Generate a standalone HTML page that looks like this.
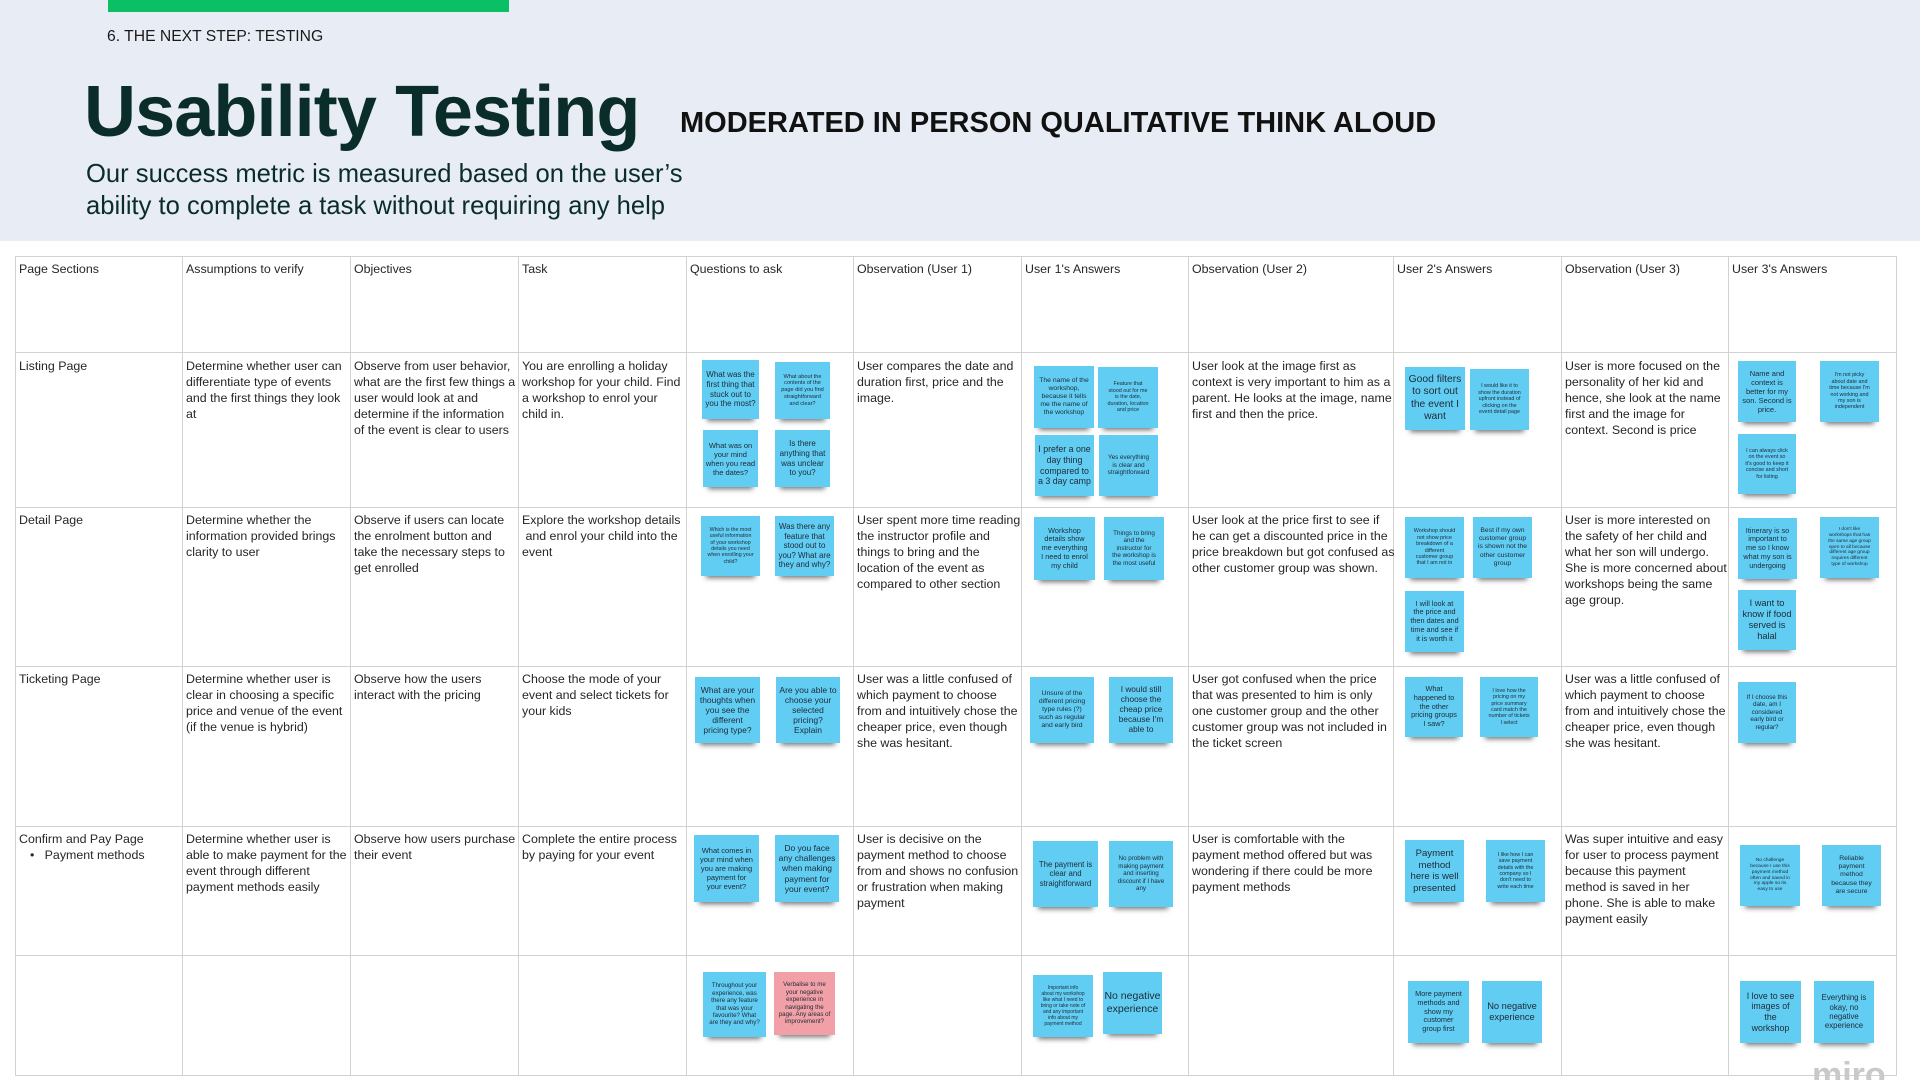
<!DOCTYPE html>
<html><head><meta charset="utf-8"><style>
html{margin:0;padding:0;width:1920px;height:1080px;overflow:hidden}
body{margin:0;padding:0;width:1920px;height:1080px;position:relative;overflow:hidden;background:#fff;font-family:"Liberation Sans",Arial,sans-serif}
.hdr{position:absolute;left:0;top:0;width:1920px;height:241px;background:#e8edf5}
.bar{position:absolute;left:108px;top:0;width:401px;height:12px;background:#0bbf64}
.step{position:absolute;left:107px;top:28px;font-size:15.7px;color:#1a1a1a;white-space:nowrap;line-height:18px}
.title{position:absolute;left:84px;top:76px;font-size:72px;line-height:72px;font-weight:bold;color:#0b2d29;letter-spacing:-0.9px;white-space:nowrap}
.mod{position:absolute;left:680px;top:107px;font-size:29px;line-height:32px;font-weight:bold;color:#111;white-space:nowrap}
.sub{position:absolute;left:86px;top:158px;font-size:25.6px;line-height:32px;color:#0b2d29;white-space:nowrap}
.vl{position:absolute;top:256px;width:1px;height:820px;background:#d2d2d2}
.hl{position:absolute;left:15px;width:1882px;height:1px;background:#d2d2d2}
.c{position:absolute;font-size:12.4px;line-height:16px;color:#262626;white-space:nowrap;margin-top:1px}
.s{position:absolute;background:#62cdf3;display:flex;align-items:center;justify-content:center;text-align:center;box-shadow:0 7px 5px -5px rgba(0,0,0,.55);color:#1d2a35;line-height:1.2;overflow:hidden;white-space:nowrap}
.p{background:#f2a0a8}
.miro{position:absolute;left:1812px;top:1058px;font-size:34px;font-weight:bold;color:#c9c9c9;line-height:34px}
</style></head><body>
<div class="hdr"></div>
<div class="bar"></div>
<div class="step">6. THE NEXT STEP: TESTING</div>
<div class="title">Usability Testing</div>
<div class="mod">MODERATED IN PERSON QUALITATIVE THINK ALOUD</div>
<div class="sub">Our success metric is measured based on the user’s<br>ability to complete a task without requiring any help</div>

<div class="vl" style="left:15px"></div>
<div class="vl" style="left:182px"></div>
<div class="vl" style="left:350px"></div>
<div class="vl" style="left:518px"></div>
<div class="vl" style="left:686px"></div>
<div class="vl" style="left:853px"></div>
<div class="vl" style="left:1021px"></div>
<div class="vl" style="left:1188px"></div>
<div class="vl" style="left:1393px"></div>
<div class="vl" style="left:1561px"></div>
<div class="vl" style="left:1728px"></div>
<div class="vl" style="left:1896px"></div>
<div class="hl" style="top:256px"></div>
<div class="hl" style="top:352px"></div>
<div class="hl" style="top:507px"></div>
<div class="hl" style="top:666px"></div>
<div class="hl" style="top:826px"></div>
<div class="hl" style="top:955px"></div>
<div class="hl" style="top:1075px"></div>

<div class="c" style="left:19px;top:260px">Page Sections</div>
<div class="c" style="left:186px;top:260px">Assumptions to verify</div>
<div class="c" style="left:354px;top:260px">Objectives</div>
<div class="c" style="left:522px;top:260px">Task</div>
<div class="c" style="left:690px;top:260px">Questions to ask</div>
<div class="c" style="left:857px;top:260px">Observation (User 1)</div>
<div class="c" style="left:1025px;top:260px">User 1's Answers</div>
<div class="c" style="left:1192px;top:260px">Observation (User 2)</div>
<div class="c" style="left:1397px;top:260px">User 2's Answers</div>
<div class="c" style="left:1565px;top:260px">Observation (User 3)</div>
<div class="c" style="left:1732px;top:260px">User 3's Answers</div>

<div class="c" style="left:19px;top:357px">Listing Page</div>
<div class="c" style="left:186px;top:357px">Determine whether user can<br>differentiate type of events<br>and the first things they look<br>at</div>
<div class="c" style="left:354px;top:357px">Observe from user behavior,<br>what are the first few things a<br>user would look at and<br>determine if the information<br>of the event is clear to users</div>
<div class="c" style="left:522px;top:357px">You are enrolling a holiday<br>workshop for your child. Find<br>a workshop to enrol your<br>child in.</div>
<div class="c" style="left:857px;top:357px">User compares the date and<br>duration first, price and the<br>image.</div>
<div class="c" style="left:1192px;top:357px">User look at the image first as<br>context is very important to him as a<br>parent. He looks at the image, name<br>first and then the price.</div>
<div class="c" style="left:1565px;top:357px">User is more focused on the<br>personality of her kid and<br>hence, she look at the name<br>first and the image for<br>context. Second is price</div>

<div class="c" style="left:19px;top:511px">Detail Page</div>
<div class="c" style="left:186px;top:511px">Determine whether the<br>information provided brings<br>clarity to user</div>
<div class="c" style="left:354px;top:511px">Observe if users can locate<br>the enrolment button and<br>take the necessary steps to<br>get enrolled</div>
<div class="c" style="left:522px;top:511px">Explore the workshop details<br>&nbsp;and enrol your child into the<br>event</div>
<div class="c" style="left:857px;top:511px">User spent more time reading<br>the instructor profile and<br>things to bring and the<br>location of the event as<br>compared to other section</div>
<div class="c" style="left:1192px;top:511px">User look at the price first to see if<br>he can get a discounted price in the<br>price breakdown but got confused as<br>other customer group was shown.</div>
<div class="c" style="left:1565px;top:511px">User is more interested on<br>the safety of her child and<br>what her son will undergo.<br>She is more concerned about<br>workshops being the same<br>age group.</div>

<div class="c" style="left:19px;top:670px">Ticketing Page</div>
<div class="c" style="left:186px;top:670px">Determine whether user is<br>clear in choosing a specific<br>price and venue of the event<br>(if the venue is hybrid)</div>
<div class="c" style="left:354px;top:670px">Observe how the users<br>interact with the pricing</div>
<div class="c" style="left:522px;top:670px">Choose the mode of your<br>event and select tickets for<br>your kids</div>
<div class="c" style="left:857px;top:670px">User was a little confused of<br>which payment to choose<br>from and intuitively chose the<br>cheaper price, even though<br>she was hesitant.</div>
<div class="c" style="left:1192px;top:670px">User got confused when the price<br>that was presented to him is only<br>one customer group and the other<br>customer group was not included in<br>the ticket screen</div>
<div class="c" style="left:1565px;top:670px">User was a little confused of<br>which payment to choose<br>from and intuitively chose the<br>cheaper price, even though<br>she was hesitant.</div>

<div class="c" style="left:19px;top:830px">Confirm and Pay Page</div>
<div class="c" style="left:30px;top:846px">•&nbsp;&nbsp;&nbsp;Payment methods</div>
<div class="c" style="left:186px;top:830px">Determine whether user is<br>able to make payment for the<br>event through different<br>payment methods easily</div>
<div class="c" style="left:354px;top:830px">Observe how users purchase<br>their event</div>
<div class="c" style="left:522px;top:830px">Complete the entire process<br>by paying for your event</div>
<div class="c" style="left:857px;top:830px">User is decisive on the<br>payment method to choose<br>from and shows no confusion<br>or frustration when making<br>payment</div>
<div class="c" style="left:1192px;top:830px">User is comfortable with the<br>payment method offered but was<br>wondering if there could be more<br>payment methods</div>
<div class="c" style="left:1565px;top:830px">Was super intuitive and easy<br>for user to process payment<br>because this payment<br>method is saved in her<br>phone. She is able to make<br>payment easily</div>

<div class="s" style="left:702px;top:360px;width:57px;height:59px;font-size:8px">What was the<br>first thing that<br>stuck out to<br>you the most?</div>
<div class="s" style="left:775px;top:362px;width:55px;height:57px;font-size:5.6px">What about the<br>contents of the<br>page did you find<br>straightforward<br>and clear?</div>
<div class="s" style="left:703px;top:430px;width:55px;height:57px;font-size:7.5px">What was on<br>your mind<br>when you read<br>the dates?</div>
<div class="s" style="left:775px;top:430px;width:55px;height:57px;font-size:8px">Is there<br>anything that<br>was unclear<br>to you?</div>
<div class="s" style="left:701px;top:516px;width:59px;height:60px;font-size:5.3px">Which is the most<br>useful information<br>of your workshop<br>details you need<br>when enrolling your<br>child?</div>
<div class="s" style="left:775px;top:516px;width:59px;height:60px;font-size:8px">Was there any<br>feature that<br>stood out to<br>you? What are<br>they and why?</div>
<div class="s" style="left:695px;top:677px;width:65px;height:66px;font-size:8.5px">What are your<br>thoughts when<br>you see the<br>different<br>pricing type?</div>
<div class="s" style="left:776px;top:677px;width:64px;height:66px;font-size:8.5px">Are you able to<br>choose your<br>selected<br>pricing?<br>Explain</div>
<div class="s" style="left:694px;top:835px;width:65px;height:67px;font-size:7.5px">What comes in<br>your mind when<br>you are making<br>payment for<br>your event?</div>
<div class="s" style="left:775px;top:835px;width:64px;height:67px;font-size:8.5px">Do you face<br>any challenges<br>when making<br>payment for<br>your event?</div>
<div class="s" style="left:703px;top:972px;width:63px;height:65px;font-size:6.2px">Throughout your<br>experience, was<br>there any feature<br>that was your<br>favourite? What<br>are they and why?</div>
<div class="s p" style="left:774px;top:972px;width:61px;height:63px;font-size:6.2px">Verbalise to me<br>your negative<br>experience in<br>navigating the<br>page. Any areas of<br>improvement?</div>

<div class="s" style="left:1034px;top:366px;width:60px;height:62px;font-size:6.8px">The name of the<br>workshop,<br>because it tells<br>me the name of<br>the workshop</div>
<div class="s" style="left:1098px;top:367px;width:60px;height:61px;font-size:5.4px">Feature that<br>stood out for me<br>is the date,<br>duration, location<br>and price</div>
<div class="s" style="left:1035px;top:435px;width:59px;height:61px;font-size:8.8px">I prefer a one<br>day thing<br>compared to<br>a 3 day camp</div>
<div class="s" style="left:1099px;top:435px;width:59px;height:61px;font-size:6.3px">Yes everything<br>is clear and<br>straightforward</div>
<div class="s" style="left:1034px;top:517px;width:61px;height:63px;font-size:7.3px">Workshop<br>details show<br>me everything<br>I need to enrol<br>my child</div>
<div class="s" style="left:1104px;top:517px;width:60px;height:63px;font-size:6.3px">Things to bring<br>and the<br>instructor for<br>the workshop is<br>the most useful</div>
<div class="s" style="left:1030px;top:677px;width:64px;height:66px;font-size:6.8px">Unsure of the<br>different pricing<br>type rules (?)<br>such as regular<br>and early bird</div>
<div class="s" style="left:1109px;top:677px;width:64px;height:66px;font-size:8.3px">I would still<br>choose the<br>cheap price<br>because I'm<br>able to</div>
<div class="s" style="left:1033px;top:841px;width:65px;height:66px;font-size:7.8px">The payment is<br>clear and<br>straightforward</div>
<div class="s" style="left:1109px;top:841px;width:64px;height:66px;font-size:6.2px">No problem with<br>making payment<br>and inserting<br>discount if I have<br>any</div>
<div class="s" style="left:1033px;top:975px;width:60px;height:62px;font-size:5px">Important info<br>about my workshop<br>like what I need to<br>bring or take note of<br>and any important<br>info about my<br>payment method</div>
<div class="s" style="left:1103px;top:972px;width:59px;height:62px;font-size:10.5px">No negative<br>experience</div>

<div class="s" style="left:1405px;top:367px;width:60px;height:63px;font-size:10.3px">Good filters<br>to sort out<br>the event I<br>want</div>
<div class="s" style="left:1470px;top:369px;width:59px;height:61px;font-size:5.4px">I would like it to<br>show the duration<br>upfront instead of<br>clicking on the<br>event detail page</div>
<div class="s" style="left:1405px;top:517px;width:59px;height:61px;font-size:5.4px">Workshop should<br>not show price<br>breakdown of a<br>different<br>customer group<br>that I am not in</div>
<div class="s" style="left:1473px;top:517px;width:59px;height:61px;font-size:6.8px">Best if my own<br>customer group<br>is shown not the<br>other customer<br>group</div>
<div class="s" style="left:1405px;top:591px;width:59px;height:61px;font-size:7.3px">I will look at<br>the price and<br>then dates and<br>time and see if<br>it is worth it</div>
<div class="s" style="left:1405px;top:677px;width:58px;height:60px;font-size:7.3px">What<br>happened to<br>the other<br>pricing groups<br>I saw?</div>
<div class="s" style="left:1480px;top:677px;width:58px;height:60px;font-size:5.4px">I love how the<br>pricing on my<br>price summary<br>card match the<br>number of tickets<br>I select</div>
<div class="s" style="left:1405px;top:840px;width:59px;height:62px;font-size:9.6px">Payment<br>method<br>here is well<br>presented</div>
<div class="s" style="left:1486px;top:840px;width:59px;height:62px;font-size:5.4px">I like how I can<br>save payment<br>details with the<br>company so I<br>don't need to<br>write each time</div>
<div class="s" style="left:1408px;top:981px;width:61px;height:62px;font-size:7.3px">More payment<br>methods and<br>show my<br>customer<br>group first</div>
<div class="s" style="left:1482px;top:981px;width:60px;height:62px;font-size:9.3px">No negative<br>experience</div>

<div class="s" style="left:1738px;top:361px;width:58px;height:61px;font-size:7.5px">Name and<br>context is<br>better for my<br>son. Second is<br>price.</div>
<div class="s" style="left:1820px;top:361px;width:59px;height:61px;font-size:5.4px">I'm not picky<br>about date and<br>time because I'm<br>not working and<br>my son is<br>independent</div>
<div class="s" style="left:1738px;top:434px;width:58px;height:60px;font-size:5.4px">I can always click<br>on the event so<br>it's good to keep it<br>concise and short<br>for listing</div>
<div class="s" style="left:1738px;top:518px;width:59px;height:61px;font-size:7.3px">Itinerary is so<br>important to<br>me so I know<br>what my son is<br>undergoing</div>
<div class="s" style="left:1820px;top:517px;width:59px;height:61px;font-size:4.8px">I don't like<br>workshops that has<br>the same age group<br>open to all because<br>different age group<br>requires different<br>type of workshop</div>
<div class="s" style="left:1738px;top:590px;width:58px;height:60px;font-size:9.2px">I want to<br>know if food<br>served is<br>halal</div>
<div class="s" style="left:1738px;top:682px;width:58px;height:61px;font-size:6.3px">If I choose this<br>date, am I<br>considered<br>early bird or<br>regular?</div>
<div class="s" style="left:1740px;top:845px;width:60px;height:61px;font-size:4.9px">No challenge<br>because I use this<br>payment method<br>often and saved in<br>my apple so its<br>easy to use</div>
<div class="s" style="left:1822px;top:845px;width:59px;height:61px;font-size:6.8px">Reliable<br>payment<br>method<br>because they<br>are secure</div>
<div class="s" style="left:1740px;top:981px;width:61px;height:62px;font-size:8.8px">I love to see<br>images of<br>the<br>workshop</div>
<div class="s" style="left:1814px;top:981px;width:60px;height:62px;font-size:7.8px">Everything is<br>okay, no<br>negative<br>experience</div>

<div class="miro">miro</div>
</body></html>
